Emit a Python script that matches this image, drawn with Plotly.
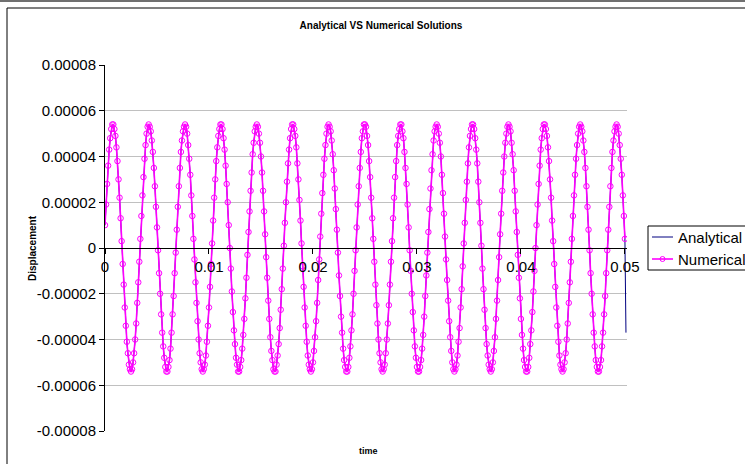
import plotly.graph_objects as go

# ---------------- data ----------------
time_start = 0.0
time_step = 0.0001  # s, sampling interval of the solution

# Numerical solution, displacement in micro-units (x 1e-6), t = 0 .. 0.05 s
numerical_um = [
    10, 19, 28, 36, 43, 48, 52, 54, 54, 52, 49, 44, 38, 30, 22, 13, 3, -7, -16, -26,
    -34, -41, -46, -51, -53, -54, -53, -50, -46, -40, -33, -24, -15, -6,
    4, 14, 23, 31, 39, 45, 50, 53, 54, 53, 51, 47, 42, 35, 27, 18, 9, -1, -11, -20,
    -29, -37, -43, -48, -52, -54, -54, -52, -49, -44, -37, -29, -21, -11, -2,
    8, 18, 27, 35, 42, 47, 51, 53, 54, 53, 50, 45, 39, 32, 23, 14, 4, -5, -15, -24,
    -32, -40, -46, -50, -53, -54, -53, -51, -47, -41, -34, -26, -17, -7,
    2, 12, 22, 30, 38, 44, 49, 52, 54, 54, 52, 48, 43, 36, 28, 20, 10, 0, -9, -19,
    -28, -36, -42, -48, -51, -54, -54, -52, -49, -44, -38, -31, -22, -13, -3,
    7, 16, 25, 33, 41, 46, 51, 53, 54, 53, 50, 46, 40, 33, 25, 16, 6, -4, -13, -23,
    -31, -39, -45, -49, -53, -54, -54, -51, -47, -42, -35, -27, -18, -9,
    1, 11, 20, 29, 37, 43, 48, 52, 54, 54, 52, 49, 44, 37, 30, 21, 12, 2, -8, -17,
    -26, -34, -41, -47, -51, -53, -54, -53, -50, -45, -39, -32, -24, -14, -5,
    5, 15, 24, 32, 39, 45, 50, 53, 54, 53, 51, 47, 41, 34, 26, 17, 8, -2, -12, -21,
    -30, -37, -44, -49, -52, -54, -54, -52, -48, -43, -36, -29, -20, -10, -1,
    9, 19, 27, 35, 42, 48, 51, 54, 54, 53, 49, 45, 38, 31, 22, 13, 4, -6, -16, -25,
    -33, -40, -46, -50, -53, -54, -53, -51, -46, -40, -33, -25, -16, -6,
    3, 13, 22, 31, 38, 45, 49, 52, 54, 54, 51, 48, 42, 35, 28, 19, 9, -1, -10, -20,
    -28, -36, -43, -48, -52, -54, -54, -52, -49, -44, -38, -30, -21, -12, -2,
    7, 17, 26, 34, 41, 47, 51, 53, 54, 53, 50, 46, 40, 32, 24, 15, 5, -5, -14, -23,
    -32, -39, -45, -50, -53, -54, -53, -51, -47, -41, -35, -26, -18, -8,
    2, 11, 21, 29, 37, 44, 49, 52, 54, 54, 52, 48, 43, 37, 29, 20, 11, 1, -9, -18,
    -27, -35, -42, -47, -51, -53, -54, -53, -50, -45, -39, -31, -23, -14, -4,
    6, 15, 25, 33, 40, 46, 50, 53, 54, 53, 51, 46, 41, 34, 25, 16, 7, -3, -13, -22,
    -31, -38, -44, -49, -52, -54, -54, -52, -48, -42, -36, -28, -19, -10,
    0, 10, 19, 28, 36, 43, 48, 52, 54, 54, 52, 49, 44, 38, 30, 22, 12, 3, -7, -17,
    -26, -34, -41, -47, -51, -53, -54, -53, -50, -46, -40, -33, -24, -15, -6,
    4, 14, 23, 32, 39, 45, 50, 53, 54, 53, 51, 47, 42, 35, 27, 18, 8, -1, -11, -20,
    -29, -37, -43, -49, -52, -54, -54, -52, -49, -43, -37, -29, -21, -11, -1,
    8, 18, 27, 35, 42, 47, 51, 53, 54, 53, 50, 45, 39, 32, 23, 14, 4,
]

# Analytical solution follows the numerical one; it has one extra sample past 0.05 s
analytical_tail_um = [-37]
analytical_um = numerical_um + analytical_tail_um

unit = 1e-6
numerical = [v * unit for v in numerical_um]
analytical = [v * unit for v in analytical_um]

series_names = ["Analytical", "Numerical"]
series_colors = ["#000080", "#FF00FF"]
series_widths = [1.0, 1.6]

x_tick_vals = [0, 0.01, 0.02, 0.03, 0.04, 0.05]
x_tick_text = ["0", "0.01", "0.02", "0.03", "0.04", "0.05"]
y_tick_vals = [-0.00008, -0.00006, -0.00004, -0.00002, 0, 0.00002, 0.00004, 0.00006, 0.00008]
y_tick_text = ["-0.00008", "-0.00006", "-0.00004", "-0.00002", "0",
               "0.00002", "0.00004", "0.00006", "0.00008"]

# ---------------- layout geometry (pixels) ----------------
W, H = 745, 464
L, R, T, B = 105, 627, 65, 431          # plot area edges


def px(x):
    return (x - L) / (R - L)


def py(y):
    return (B - y) / (B - T)


FONT = "Liberation Sans, Arial, sans-serif"

fig = go.Figure()
fig.add_trace(go.Scatter(
    name=series_names[0], x0=time_start, dx=time_step, y=analytical,
    mode="lines", line=dict(color=series_colors[0], width=series_widths[0]),
    showlegend=False,
))
fig.add_trace(go.Scatter(
    name=series_names[1], x0=time_start, dx=time_step, y=numerical,
    mode="lines+markers", line=dict(color=series_colors[1], width=series_widths[1]),
    marker=dict(symbol="circle-open", size=5.5, color=series_colors[1],
                line=dict(width=1, color=series_colors[1])),
    showlegend=False,
))

# legend drawn by hand so that its layout matches the reference box
legend_rows_y = [237, 259]
legend_shapes = [
    dict(type="rect", xref="paper", yref="paper",
         x0=px(648), x1=px(760), y0=py(270), y1=py(226),
         line=dict(color="black", width=1), fillcolor="white", layer="above"),
]
legend_annots = []
for name, color, wdt, ry in zip(series_names, series_colors, series_widths, legend_rows_y):
    legend_shapes.append(dict(type="line", xref="paper", yref="paper",
                              x0=px(652), x1=px(673), y0=py(ry), y1=py(ry),
                              line=dict(color=color, width=wdt), layer="above"))
    legend_annots.append(dict(text=name, xref="paper", yref="paper",
                              x=px(676), y=py(ry), xanchor="left", yanchor="middle",
                              showarrow=False,
                              font=dict(family=FONT, size=15, color="black")))
legend_shapes.append(dict(type="circle", xref="paper", yref="paper",
                          x0=px(660), x1=px(665), y0=py(legend_rows_y[1] + 2.5),
                          y1=py(legend_rows_y[1] - 2.5),
                          line=dict(color=series_colors[1], width=1), layer="above"))

fig.update_layout(
    width=W, height=H,
    margin=dict(l=L, r=W - R, t=T, b=H - B, autoexpand=False),
    paper_bgcolor="white", plot_bgcolor="white",
    font=dict(family=FONT, size=15, color="black"),
    title=dict(text="<b>Analytical VS Numerical Solutions</b>",
               font=dict(family=FONT, size=10, color="black"),
               x=px(381), xref="paper", xanchor="center",
               y=1 - 25 / H, yref="container", yanchor="middle"),
    showlegend=False,
    xaxis=dict(range=[0, 0.0502], anchor="free", position=0.5,
               tickvals=x_tick_vals, ticktext=x_tick_text,
               showline=True, linecolor="black", linewidth=1,
               ticks="outside", ticklen=5, tickcolor="black",
               showgrid=False, zeroline=False,
               tickfont=dict(family=FONT, size=15)),
    yaxis=dict(range=[-0.00008, 0.00008],
               tickvals=y_tick_vals, ticktext=y_tick_text,
               showline=True, linecolor="black", linewidth=1,
               ticks="outside", ticklen=5, tickcolor="black",
               showgrid=True, gridcolor="#c0c0c0", gridwidth=1,
               zeroline=False,
               tickfont=dict(family=FONT, size=15)),
    annotations=[
        dict(text="<b>Displacement</b>", xref="paper", yref="paper",
             x=px(32), y=0.5, xanchor="center", yanchor="middle",
             textangle=-90, showarrow=False,
             font=dict(family=FONT, size=10, color="black")),
        dict(text="<b>time</b>", xref="paper", yref="paper",
             x=px(368), y=py(451), xanchor="center", yanchor="middle",
             showarrow=False,
             font=dict(family=FONT, size=9, color="black")),
    ] + legend_annots,
    shapes=[
        dict(type="rect", xref="paper", yref="paper",
             x0=px(7), x1=px(800), y0=py(520), y1=py(8),
             line=dict(color="black", width=1), fillcolor="rgba(0,0,0,0)", layer="below"),
        dict(type="line", xref="paper", yref="paper",
             x0=px(-10), x1=px(800), y0=py(1), y1=py(1),
             line=dict(color="#707070", width=2)),
    ] + legend_shapes,
)

fig.write_html("out.html")
